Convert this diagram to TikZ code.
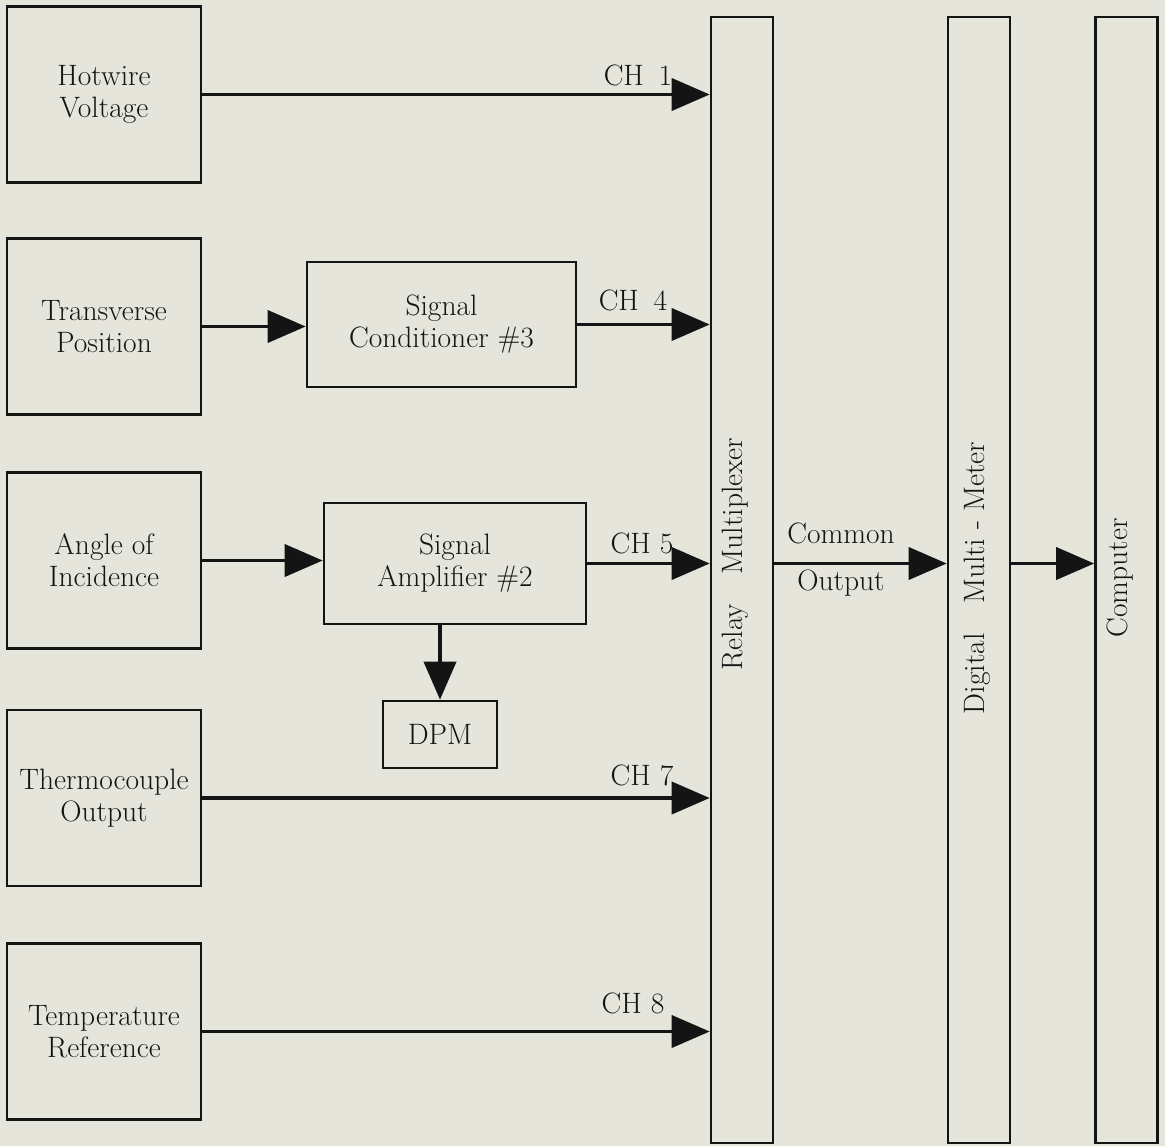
\documentclass[tikz,border=0pt]{standalone}
\usetikzlibrary{arrows.meta}
\definecolor{paper}{RGB}{229,229,219}
\definecolor{ink}{RGB}{20,20,20}
\begin{document}
\begin{tikzpicture}[x=1pt,y=-1pt,
  txt/.style={font=\fontsize{29.5}{32}\selectfont, text=ink},
  box/.style={txt, draw=ink, line width=2.6pt, inner sep=0pt, align=center},
  src/.style={box, minimum width=194pt, minimum height=176pt},
  tall/.style={box, minimum width=62pt, minimum height=1126pt},
  conn/.style={draw=ink, line width=3.8pt, -{Triangle[length=38pt,width=32pt]}},
  lab/.style={txt, inner sep=0pt}]
\fill[paper] (0,0) rectangle (1165,1146);
\useasboundingbox (0,0) rectangle (1165,1146);

% source boxes
\node[src] (hw) at (104,94.5) {Hotwire\\Voltage};
\node[src] (tp) at (104,326.5) {Transverse\\Position};
\node[src] (ai) at (104,560.5) {Angle of\\Incidence};
\node[src] (tc) at (104,798) {Thermocouple\\Output};
\node[src] (tr) at (104,1031.5) {Temperature\\Reference};

% intermediate boxes
\node[box, minimum width=269pt, minimum height=125pt] (sc) at (441.5,324.5) {Signal\\Conditioner \#3};
\node[box, minimum width=262pt, minimum height=121pt] (sa) at (455,563.5) {Signal\\Amplifier \#2};
\node[box, minimum width=114pt, minimum height=67pt] (dpm) at (440,734.5) {DPM};

% tall boxes
\node[tall] (relay) at (742,580) {};
\node[tall] (dmm) at (979,580) {};
\node[tall] (comp) at (1126.5,580) {};
\node[lab, rotate=90] (relaylab) at (735,554) {Relay\quad Multiplexer};
\node[lab, rotate=90] (dmmlab) at (977,578) {Digital\quad Multi - Meter};
\node[lab, rotate=90] (complab) at (1120,578) {Computer};

% connectors
\draw[conn] (hw.east) -- (relay.west |- hw.east);
\draw[conn] (tp.east) -- (sc.west |- tp.east);
\draw[conn] (sc.east) -- (relay.west |- sc.east);
\draw[conn] (ai.east) -- (sa.west |- ai.east);
\draw[conn] (sa.east) -- (relay.west |- sa.east);
\draw[conn] (dpm.north |- sa.south) -- (dpm.north);
\draw[conn] (tc.east) -- (relay.west |- tc.east);
\draw[conn] (tr.east) -- (relay.west |- tr.east);
\draw[conn] (relay.east |- sa.east) -- (dmm.west |- sa.east);
\draw[conn] (dmm.east |- sa.east) -- (comp.west |- sa.east);

% labels
\node[lab] (l1) at (638,75) {CH\enspace 1};
\node[lab] (l4) at (633,300) {CH\enspace 4};
\node[lab] (l5) at (642,543) {CH 5};
\node[lab] (l7) at (642,775) {CH 7};
\node[lab] (l8) at (633,1003) {CH 8};
\node[lab] (lc) at (841,533) {Common};
\node[lab] (lo) at (841,583) {Output};
\end{tikzpicture}
\end{document}
